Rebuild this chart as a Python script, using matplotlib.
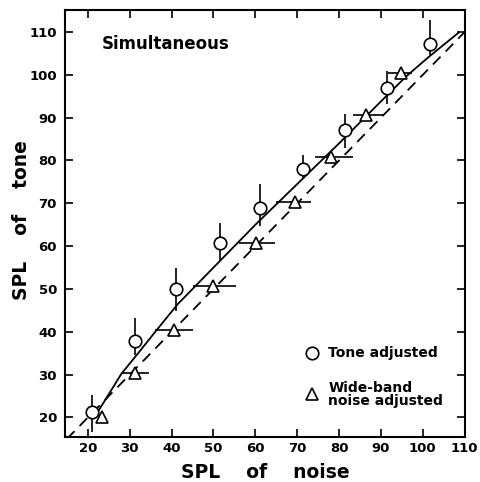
import numpy as np
import matplotlib
matplotlib.use('Agg')
import matplotlib.pyplot as plt

# tone adjusted (circles, vertical error bars)
tone_x = [21.1, 31.3, 41.1, 51.5, 61.2, 71.3, 81.3, 91.4, 101.6]
tone_y = [21.3, 37.8, 50.0, 60.7, 69.0, 78.0, 87.0, 97.0, 107.1]
tone_lo = [16.6, 34.7, 44.8, 56.6, 64.8, 75.8, 82.9, 93.1, 104.7]
tone_hi = [25.3, 43.3, 54.8, 65.4, 74.4, 81.3, 90.9, 101.0, 112.8]

# wide-band noise adjusted (triangles, horizontal error bars)
noise_x = [23.4, 31.3, 40.6, 50.0, 60.1, 69.5, 78.0, 86.5, 94.7]
noise_y = [20.1, 30.4, 40.4, 50.6, 60.7, 70.4, 80.8, 90.5, 100.5]
noise_lo = [23.4, 28.2, 36.1, 45.2, 56.0, 65.0, 74.3, 83.4, 91.6]
noise_hi = [23.4, 34.5, 45.1, 55.4, 64.7, 73.3, 83.3, 90.8, 97.4]

# fitted curve (solid) and equality line (dashed)
fit_x = [22.5, 28.0, 32.0, 36.5, 41.5, 50, 60, 70, 80, 90, 96, 101.2, 108.5]
fit_y = [21.5, 30.2, 35.0, 40.5, 46.5, 55.0, 65.0, 74.5, 84.0, 93.8, 99.6, 104.0, 109.8]
eq_x = [15, 110]
eq_y = [15, 110]

ticks = [20, 30, 40, 50, 60, 70, 80, 90, 100, 110]

fig = plt.figure(figsize=(4.8, 4.82), dpi=100)
ax = fig.add_axes([0.136, 0.093, 0.833, 0.886])

ax.plot(fit_x, fit_y, color='black', lw=1.3)
ax.plot(eq_x, eq_y, color='black', lw=1.3, dashes=(6, 4))

tx = np.array(tone_x)
ty = np.array(tone_y)
ax.errorbar(tx, ty, yerr=[ty - np.array(tone_lo), np.array(tone_hi) - ty],
            fmt='none', ecolor='black', elinewidth=1.2, capsize=0)
ax.plot(tx, ty, 'o', ms=9, mfc='white', mec='black', mew=1.2, zorder=5)

nx = np.array(noise_x)
ny = np.array(noise_y)
ax.errorbar(nx, ny, xerr=[nx - np.array(noise_lo), np.array(noise_hi) - nx],
            fmt='none', ecolor='black', elinewidth=1.2, capsize=0)
ax.plot(nx, ny, '^', ms=9, mfc='white', mec='black', mew=1.2, zorder=5)

ax.set_xlim(14.6, 110.1)
ax.set_ylim(15.4, 115.1)
ax.set_xticks(ticks)
ax.set_yticks(ticks)
ax.tick_params(direction='in', length=6, width=1.2, top=True, right=True,
               labelsize=9.5)
ax.tick_params(axis='y', pad=6)
for lab in ax.get_xticklabels() + ax.get_yticklabels():
    lab.set_fontweight('bold')
for s in ax.spines.values():
    s.set_linewidth(1.5)

fig.text(0.552, 1 - 473 / 482, 'SPL    of    noise', fontsize=13.5,
         fontweight='bold', ha='center', va='center')
fig.text(22 / 480, 1 - 220 / 482, 'SPL    of    tone', fontsize=13.5,
         fontweight='bold', ha='center', va='center', rotation=90)

ax.text(0.09, 0.92, 'Simultaneous', transform=ax.transAxes, fontsize=12,
        fontweight='bold', va='center')

# legend drawn by hand
ax.plot([73.5], [35.0], 'o', ms=9, mfc='white', mec='black', mew=1.2)
ax.text(77.4, 35.0, 'Tone adjusted', fontsize=10, fontweight='bold', va='center')
ax.plot([73.5], [25.4], '^', ms=9, mfc='white', mec='black', mew=1.2)
ax.text(77.4, 25.4, 'Wide-band\nnoise adjusted', fontsize=10, fontweight='bold',
        va='center', linespacing=0.95)

plt.savefig('out.png', dpi=100)
